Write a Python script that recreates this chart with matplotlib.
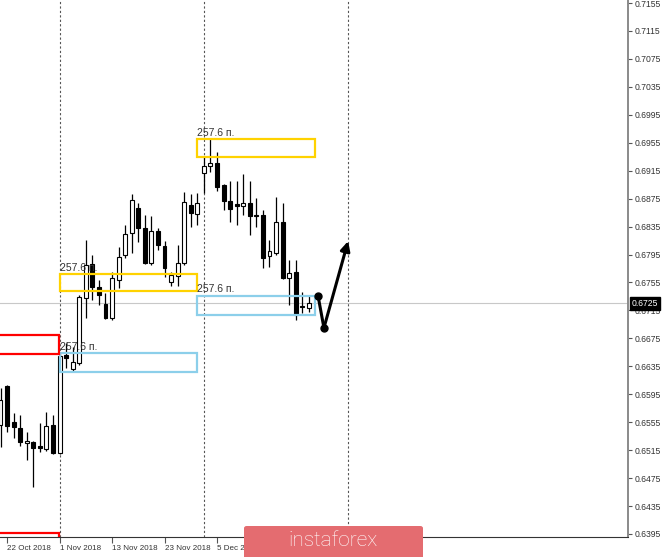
import matplotlib
matplotlib.use('Agg')
import matplotlib.pyplot as plt
from matplotlib.patches import Rectangle, FancyBboxPatch
import numpy as np

# daily candles, oldest first
opens  = [0.6551, 0.6607, 0.6555, 0.6547, 0.6525, 0.6527, 0.6521, 0.6517, 0.6551, 0.6511,
          0.6651, 0.6631, 0.6640, 0.6733, 0.6781, 0.6749, 0.6724, 0.6704, 0.6759, 0.6794,
          0.6826, 0.6862, 0.6833, 0.6783, 0.6829, 0.6807, 0.6756, 0.6764, 0.6783, 0.6866,
          0.6853, 0.6912, 0.6922, 0.6926, 0.6894, 0.6872, 0.6867, 0.6864, 0.6869, 0.6851,
          0.6852, 0.6793, 0.6797, 0.6841, 0.6761, 0.6770, 0.6721, 0.6718]
highs  = [0.6604, 0.6608, 0.6568, 0.6565, 0.6541, 0.6528, 0.6554, 0.6570, 0.6565, 0.6653,
          0.6668, 0.6663, 0.6737, 0.6816, 0.6794, 0.6759, 0.6740, 0.6770, 0.6806, 0.6837,
          0.6882, 0.6869, 0.6852, 0.6850, 0.6833, 0.6814, 0.6770, 0.6809, 0.6884, 0.6882,
          0.6883, 0.6935, 0.6962, 0.6942, 0.6896, 0.6900, 0.6900, 0.6910, 0.6900, 0.6876,
          0.6859, 0.6816, 0.6877, 0.6869, 0.6787, 0.6787, 0.6741, 0.6736]
lows   = [0.6520, 0.6541, 0.6532, 0.6521, 0.6501, 0.6462, 0.6512, 0.6514, 0.6510, 0.6510,
          0.6633, 0.6627, 0.6637, 0.6704, 0.6730, 0.6723, 0.6703, 0.6701, 0.6747, 0.6790,
          0.6797, 0.6813, 0.6782, 0.6780, 0.6801, 0.6763, 0.6750, 0.6750, 0.6780, 0.6834,
          0.6837, 0.6883, 0.6913, 0.6886, 0.6859, 0.6841, 0.6837, 0.6852, 0.6823, 0.6834,
          0.6776, 0.6777, 0.6794, 0.6760, 0.6723, 0.6701, 0.6711, 0.6713]
closes = [0.6587, 0.6550, 0.6548, 0.6527, 0.6528, 0.6518, 0.6518, 0.6550, 0.6511, 0.6650,
          0.6647, 0.6641, 0.6734, 0.6780, 0.6749, 0.6737, 0.6704, 0.6761, 0.6791, 0.6824,
          0.6873, 0.6833, 0.6783, 0.6829, 0.6809, 0.6776, 0.6766, 0.6783, 0.6870, 0.6854,
          0.6869, 0.6922, 0.6926, 0.6892, 0.6872, 0.6860, 0.6864, 0.6869, 0.6850, 0.6850,
          0.6790, 0.6800, 0.6841, 0.6761, 0.6769, 0.6708, 0.6720, 0.6725]

date_idx = [1, 9, 17, 25, 33]
date_labels = ['22 Oct 2018', '1 Nov 2018', '13 Nov 2018', '23 Nov 2018', '5 Dec 2018']

price_ticks = np.round(np.arange(0.6395, 0.7156, 0.004), 4)
last_price = 0.6725

# zones: x from, x to, low, high, colour
zones = [(9, 30, 0.6743, 0.6767, '#FFD200'),
         (9, 30, 0.6627, 0.6654, '#8CCFEA'),
         (30, 48, 0.6935, 0.6960, '#FFD200'),
         (30, 48, 0.6708, 0.6736, '#8CCFEA'),
         (-2, 8.9, 0.6653, 0.6680, '#FF0000'),
         (-2, 8.9, 0.6380, 0.6396, '#FF0000')]
zone_text = '257.6 п.'
labelled = [0, 1, 2, 3]

vlines_idx = [9, 31, 53]

arrow_x = [48.4, 49.3, 53.1]
arrow_y = [0.6736, 0.6690, 0.6818]

fig = plt.figure(figsize=(6.65, 5.57), dpi=100)
ax = fig.add_axes([0, 20/557, 628/665, 537/557])

x = np.arange(len(opens))
o = np.array(opens); c = np.array(closes)
up = c >= o

ax.vlines(x, lows, highs, color='black', lw=0.9, zorder=3)
ax.bar(x, np.maximum(np.abs(c - o), 0.00003), bottom=np.minimum(o, c), width=0.6,
       color=np.where(up, 'white', 'black'), edgecolor='black', lw=0.8, zorder=4)

for x0, x1, lo, hi, col in zones:
    ax.add_patch(Rectangle((x0, lo), x1 - x0, hi - lo, fill=False, ec=col, lw=1.6, zorder=5))
for k in labelled:
    x0, x1, lo, hi, col = zones[k]
    ax.text(x0, hi + 0.0002, zone_text, fontsize=7.5, family='Liberation Sans',
            color='#333333', ha='left', va='bottom', zorder=6)

for v in vlines_idx:
    ax.axvline(v, color='#555555', ls=(0, (2, 2)), lw=0.8, zorder=1)

ax.axhline(last_price, color='#C8C8C8', lw=0.8, zorder=1)

ax.plot(arrow_x[:2], arrow_y[:2], color='black', lw=2.2, zorder=7)
ax.plot(arrow_x[:2], arrow_y[:2], 'o', color='black', ms=5, zorder=7)
ax.annotate('', xy=(arrow_x[2], arrow_y[2]), xytext=(arrow_x[1], arrow_y[1]),
            arrowprops=dict(arrowstyle='-|>', color='black', lw=2.2, mutation_scale=14), zorder=7)

ax.set_xlim(-0.08, 95.65)
ax.set_ylim(0.63907, 0.71593)

for s in ['top', 'left']:
    ax.spines[s].set_visible(False)
ax.spines['right'].set_color('#8a8a8a')
ax.spines['right'].set_linewidth(1.4)
ax.spines['bottom'].set_color('#333333')

ax.yaxis.tick_right()
ax.set_yticks(price_ticks)
ax.set_yticklabels(['%.4f' % t for t in price_ticks])
ax.set_xticks(date_idx)
ax.set_xticklabels(date_labels, ha='left')
ax.tick_params(axis='y', length=3, width=0.8, color='#555555', labelsize=6.2, pad=2, labelcolor='#333333')
ax.tick_params(axis='x', length=4, width=0.8, color='#555555', labelsize=5.8, pad=2, labelcolor='#333333')
for lab in ax.get_xticklabels() + ax.get_yticklabels():
    lab.set_family('Liberation Sans')

ax.text(1.006, last_price, '%.4f' % last_price, transform=ax.get_yaxis_transform(),
        fontsize=6.2, family='Liberation Sans', color='white', ha='left', va='center',
        bbox=dict(boxstyle='square,pad=0.2', fc='black', ec='black'), clip_on=False, zorder=10)

# watermark
fig.patches.append(FancyBboxPatch((244/665, -0.03), 179/665, 31/557 + 0.03,
                                  boxstyle='round,pad=0,rounding_size=0.004',
                                  transform=fig.transFigure, fc='#E46C70', ec='none', zorder=20))
fig.text(333/665, 16/557, 'instaforex', fontsize=15, family='Roboto', fontweight='light',
         color='white', ha='center', va='center', zorder=21)

fig.savefig('out.png', dpi=100)
